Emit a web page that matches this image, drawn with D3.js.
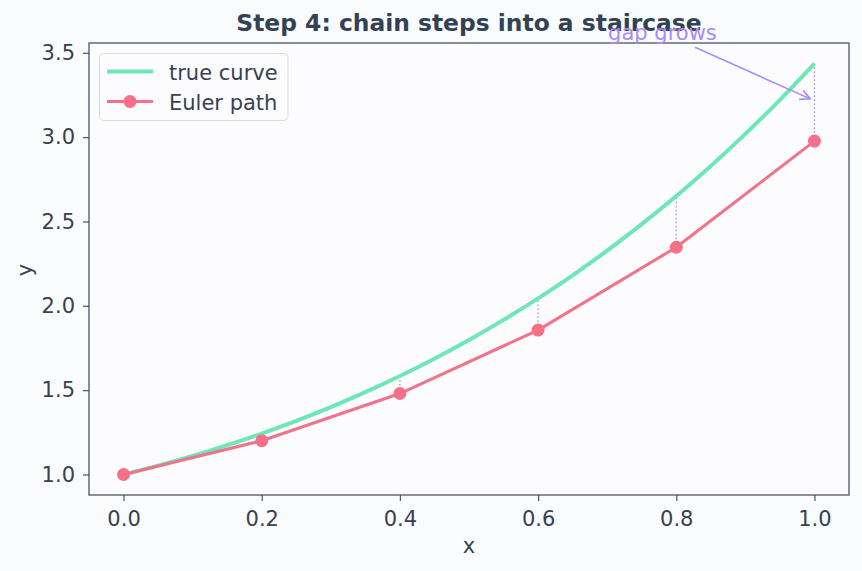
<!DOCTYPE html>
<html><head><meta charset="utf-8">
<script src="https://cdn.jsdelivr.net/npm/d3@7/dist/d3.min.js"></script>
<style>body{margin:0;background:#fafbfd;}svg{display:block;font-family:"DejaVu Sans",sans-serif;}</style>
</head><body><svg id="c" width="862" height="571"></svg>
<script>
const trueX = [0,0.05,0.1,0.15,0.2,0.25,0.3,0.35,0.4,0.45,0.5,0.55,0.6,0.65,0.7,0.75,0.8,0.85,0.9,0.95,1.0];
const trueY = [1,1.0525,1.1103,1.1737,1.2428,1.3181,1.3997,1.4881,1.5837,1.6866,1.7974,1.9165,2.0442,2.1811,2.3275,2.4840,2.6511,2.8293,3.0192,3.2214,3.4366];
const eulerX = [0,0.2,0.4,0.6,0.8,1.0];
const eulerY = [1,1.2,1.48,1.856,2.3472,2.9766];
const xTicks = [0,0.2,0.4,0.6,0.8,1.0];
const yTicks = [1.0,1.5,2.0,2.5,3.0,3.5];

const svg = d3.select("#c");
const L=89,R=849,T=43,B=495;
const x = d3.scaleLinear().domain([-0.05,1.05]).range([L,R]);
const y = d3.scaleLinear().domain([0.8783,3.5583]).range([B,T]);
const txt="#374151", spine="#4b5563";
const FS=21;

svg.append("rect").attr("width",862).attr("height",571).attr("fill","#fafbfd");
svg.append("rect").attr("x",L).attr("y",T).attr("width",R-L).attr("height",B-T).attr("fill","#fcfcfe");

// gap lines
eulerX.forEach((xv,i)=>{
  if(i===0) return;
  const ti = trueX.findIndex(v=>Math.abs(v-xv)<1e-9);
  svg.append("line").attr("x1",x(xv)).attr("x2",x(xv)).attr("y1",y(eulerY[i])).attr("y2",y(trueY[ti]))
    .attr("stroke","#8b7fd8").attr("stroke-width",1.3).attr("stroke-dasharray","1.5,2.5").attr("opacity",0.85);
});

const line = d3.line().x(d=>x(d[0])).y(d=>y(d[1])).curve(d3.curveMonotoneX);
svg.append("path").attr("d",line(trueX.map((v,i)=>[v,trueY[i]]))).attr("fill","none")
  .attr("stroke","#6ee7b7").attr("stroke-width",4);
svg.append("path").attr("d",d3.line().x(d=>x(d[0])).y(d=>y(d[1]))(eulerX.map((v,i)=>[v,eulerY[i]])))
  .attr("fill","none").attr("stroke","#f27289").attr("stroke-width",3);
svg.selectAll(".pt").data(eulerX).enter().append("circle").attr("cx",d=>x(d)).attr("cy",(d,i)=>y(eulerY[i]))
  .attr("r",6.5).attr("fill","#f7708a");

// axes
const xa = svg.append("g").attr("transform",`translate(0,${B})`).call(d3.axisBottom(x).tickValues(xTicks).tickFormat(d3.format(".1f")).tickSize(6).tickPadding(10));
const ya = svg.append("g").attr("transform",`translate(${L},0)`).call(d3.axisLeft(y).tickValues(yTicks).tickFormat(d3.format(".1f")).tickSize(6).tickPadding(8));
[xa,ya].forEach(g=>{
  g.select(".domain").remove();
  g.selectAll("line").attr("stroke",spine).attr("stroke-width",1.2);
  g.selectAll("text").attr("fill",txt).attr("font-size",FS).attr("font-family","DejaVu Sans");
});
svg.append("rect").attr("x",L).attr("y",T).attr("width",R-L).attr("height",B-T).attr("fill","none").attr("stroke",spine).attr("stroke-width",1.3);

svg.append("text").attr("x",(L+R)/2).attr("y",31).attr("text-anchor","middle").attr("font-size",23.4).attr("font-weight","bold").attr("fill","#334155").text("Step 4: chain steps into a staircase");
svg.append("text").attr("x",469).attr("y",553).attr("text-anchor","middle").attr("font-size",FS).attr("fill",txt).text("x");
svg.append("text").attr("transform","translate(32,270) rotate(-90)").attr("text-anchor","middle").attr("font-size",FS).attr("fill",txt).text("y");

// annotation
svg.append("defs").append("marker").attr("id","ah").attr("viewBox","0 0 12 12").attr("refX",11).attr("refY",6)
  .attr("markerWidth",12).attr("markerHeight",12).attr("markerUnits","userSpaceOnUse").attr("orient","auto")
  .append("path").attr("d","M1,1 L11,6 L1,11").attr("fill","none").attr("stroke","#a78bfa").attr("stroke-width",1.6);
svg.append("line").attr("x1",695).attr("y1",47.3).attr("x2",x(0.994)).attr("y2",y(3.227))
  .attr("stroke","#a78bfa").attr("stroke-width",1.6).attr("marker-end","url(#ah)");
svg.append("text").attr("x",x(0.78)).attr("y",39.5).attr("text-anchor","middle").attr("font-size",FS).attr("fill","#a78bfa").text("gap grows");

// legend
const lg = svg.append("g");
lg.append("rect").attr("x",99.5).attr("y",53.5).attr("width",188.5).attr("height",67).attr("rx",4).attr("fill","#fcfcfe").attr("fill-opacity",0.9).attr("stroke","#d9dbe0");
lg.append("line").attr("x1",107).attr("x2",153).attr("y1",71.5).attr("y2",71.5).attr("stroke","#6ee7b7").attr("stroke-width",4);
lg.append("line").attr("x1",107).attr("x2",153).attr("y1",101.5).attr("y2",101.5).attr("stroke","#f27289").attr("stroke-width",3);
lg.append("circle").attr("cx",130).attr("cy",101.5).attr("r",6.5).attr("fill","#f7708a");
lg.append("text").attr("x",169).attr("y",80).attr("font-size",FS).attr("fill",txt).text("true curve");
lg.append("text").attr("x",169).attr("y",110).attr("font-size",FS).attr("fill",txt).text("Euler path");
</script></body></html>
